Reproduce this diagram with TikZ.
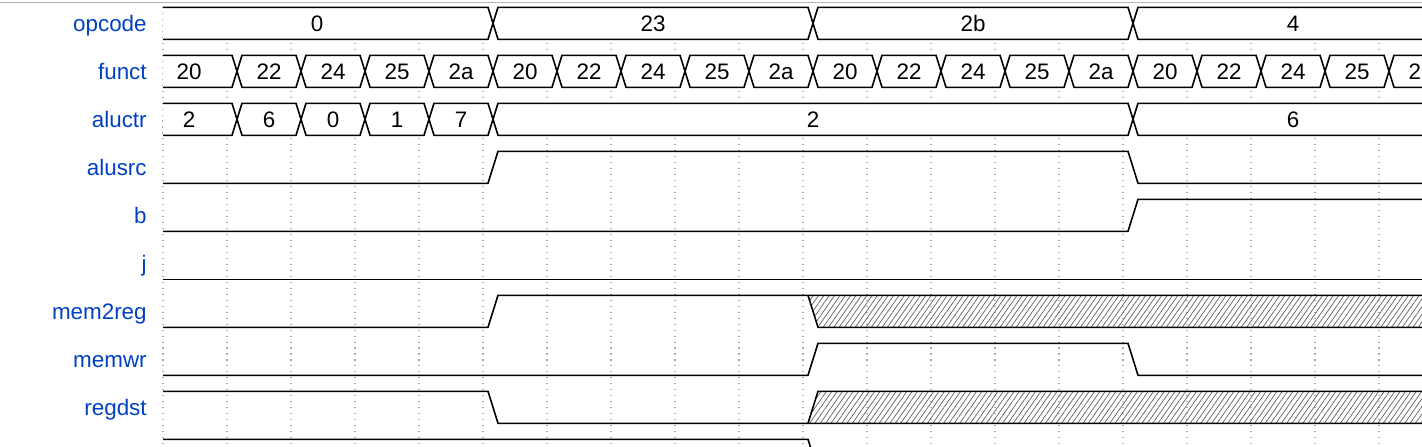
\documentclass[tikz,border=0pt]{standalone}
\usepackage{fontspec}
\setmainfont{Liberation Sans}
\usepackage{xcolor}
\usepackage{tikz}
\usetikzlibrary{patterns.meta}
\definecolor{sigblue}{HTML}{0041C4}

% one bus value: row, first cycle, end cycle, text, node name
\newcommand{\seg}[5]{%
  \pgfmathsetmacro{\yt}{7.3+48*(#1)}%
  \pgfmathsetmacro{\yb}{\yt+32}%
  \pgfmathsetmacro{\ym}{\yt+16}%
  \pgfmathsetmacro{\xa}{163+64*(#2)}%
  \pgfmathsetmacro{\xb}{163+64*(#3)}%
  \ifnum#2=0
    \draw[bus] (\xa,\yt) -- (\xb+5,\yt) -- (\xb+10,\ym) -- (\xb+5,\yb) -- (\xa,\yb);
    \node[val] (#5) at ({\xa+32*((#3)-(#2))-6},\ym+8.5) {#4};
  \else
    \draw[bus] (\xa+10,\ym) -- (\xa+15,\yt) -- (\xb+5,\yt) -- (\xb+10,\ym)
      -- (\xb+5,\yb) -- (\xa+15,\yb) -- cycle;
    \node[val] (#5) at ({\xa+10+32*((#3)-(#2))},\ym+8.5) {#4};
  \fi}

\begin{document}
\begin{tikzpicture}[
        x=0.02cm, y=-0.02cm,
        font=\fontsize{12.75}{15}\selectfont,
        sig/.style={line width=0.9pt, line join=miter},
        bus/.style={sig, fill=white},
        val/.style={anchor=base, inner sep=0pt},
        lbl/.style={anchor=base east, inner sep=0pt, text=sigblue},
        gridln/.style={gray!65, line width=0.6pt, dash pattern=on 0.6pt off 2.8pt},
        hatch/.style={pattern={Lines[angle=55,distance=2.5pt,line width=0.4pt]},
                      pattern color=gray!75!black}
    ]
        \useasboundingbox (0,0) rectangle (1422,446);
        \clip (0,0) rectangle (1422,446);

        % grid
        \draw[gray!60, line width=0.6pt] (0,2.7) -- (1422,2.7);
        \foreach \k in {0,...,19}
            \draw[gridln] (163+64*\k,7) -- (163+64*\k,446);

        % names
        \foreach \s [count=\i from 0] in {opcode,funct,aluctr,alusrc,b,j,mem2reg,memwr,regdst}
            \node[lbl] (l\s) at (147,31.8+48*\i) {\s};

        % buses
        \seg{0}{0}{5}{0}{op0}
        \seg{0}{5}{10}{23}{op1}
        \seg{0}{10}{15}{2b}{op2}
        \seg{0}{15}{20}{4}{op3}
        \foreach \v [count=\k from 0] in {20,22,24,25,2a,20,22,24,25,2a,
                                          20,22,24,25,2a,20,22,24,25,2a}
            {\seg{1}{\k}{\k+1}{\v}{f\k}}
        \foreach \v [count=\k from 0] in {2,6,0,1,7}
            {\seg{2}{\k}{\k+1}{\v}{a\k}}
        \seg{2}{5}{15}{2}{a5}
        \seg{2}{15}{20}{6}{a6}

        % single bits
        \draw[sig] (163,183.3) -- (488,183.3) -- (498,151.3) -- (1128,151.3)
            -- (1138,183.3) -- (1430,183.3);
        \draw[sig] (163,231.3) -- (1128,231.3) -- (1138,199.3) -- (1430,199.3);
        \draw[sig] (163,279.3) -- (1430,279.3);
        \path[hatch] (808,295.3) -- (818,327.3) -- (1430,327.3) -- (1430,295.3) -- cycle;
        \draw[sig] (163,327.3) -- (488,327.3) -- (498,295.3) -- (1430,295.3);
        \draw[sig] (808,295.3) -- (818,327.3) -- (1430,327.3);
        \draw[sig] (163,375.3) -- (808,375.3) -- (818,343.3) -- (1128,343.3)
            -- (1138,375.3) -- (1430,375.3);
        \path[hatch] (808,423.3) -- (818,391.3) -- (1430,391.3) -- (1430,423.3) -- cycle;
        \draw[sig] (163,391.3) -- (488,391.3) -- (498,423.3) -- (1430,423.3);
        \draw[sig] (808,423.3) -- (818,391.3) -- (1430,391.3);
        \draw[sig] (163,439.3) -- (808,439.3) -- (818,471.3);
\end{tikzpicture}
\end{document}
